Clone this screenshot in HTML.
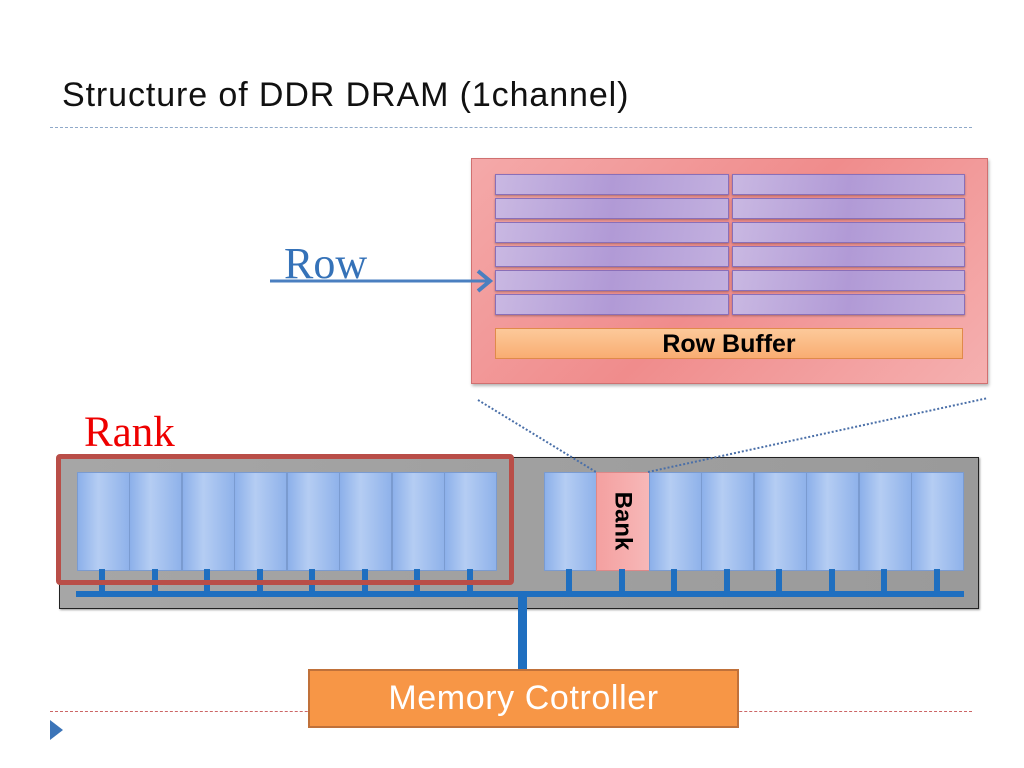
<!DOCTYPE html>
<html><head><style>
body{margin:0;width:1024px;height:768px;background:#fff;position:relative;overflow:hidden;font-family:"Liberation Sans",sans-serif}
.a{position:absolute;box-sizing:border-box}
.row{position:absolute;height:19px;background:linear-gradient(100deg,#c9b8e2,#b19ad6 50%,#c2b0df);border:1px solid #8a6fb8;box-shadow:0 1px 2px rgba(0,0,0,.3)}
.chip{position:absolute;top:472px;height:97px;width:51px;background:linear-gradient(90deg,#8cb0ea,#b5cdf3 40%,#8fb2ea);border:1px solid #7a9bd0}
.stub{position:absolute;top:569px;height:24px;width:6px;background:#1f6fc0}
</style></head><body>
<div class="a" style="left:62px;top:76px;font-size:34px;letter-spacing:0.9px;color:#111">Structure of DDR DRAM (1channel)</div>
<div class="a" style="left:50px;top:127px;width:922px;border-top:1px dashed #8fa9c9"></div>
<div class="a" style="left:471px;top:158px;width:517px;height:226px;background:linear-gradient(135deg,#f4a9a9,#f08c8c 50%,#f5b0b0);border:1px solid #d07070;box-shadow:1px 2px 3px rgba(0,0,0,.3)"></div>
<div class="row" style="left:495px;top:174px;width:232px"></div><div class="row" style="left:732px;top:174px;width:231px"></div>
<div class="row" style="left:495px;top:198px;width:232px"></div><div class="row" style="left:732px;top:198px;width:231px"></div>
<div class="row" style="left:495px;top:222px;width:232px"></div><div class="row" style="left:732px;top:222px;width:231px"></div>
<div class="row" style="left:495px;top:246px;width:232px"></div><div class="row" style="left:732px;top:246px;width:231px"></div>
<div class="row" style="left:495px;top:270px;width:232px"></div><div class="row" style="left:732px;top:270px;width:231px"></div>
<div class="row" style="left:495px;top:294px;width:232px"></div><div class="row" style="left:732px;top:294px;width:231px"></div>
<div class="a" style="left:495px;top:328px;width:468px;height:31px;background:linear-gradient(#fcc99a,#f9ad72);border:1px solid #e08a4a;text-align:center;font-weight:bold;font-size:25px;line-height:30px;color:#000">Row Buffer</div>
<div class="a" style="left:284px;top:238px;font-family:'Liberation Serif',serif;font-size:44px;color:#3572b8">Row</div>
<div class="a" style="left:84px;top:408px;font-family:'Liberation Serif',serif;font-size:43px;color:#e00">Rank</div>
<div class="a" style="left:59px;top:457px;width:920px;height:152px;background:linear-gradient(90deg,#a6a6a6,#9a9a9a);border:1px solid #222;box-shadow:1px 1px 2px rgba(0,0,0,.4)"></div>
<div class="a" style="left:76px;top:591px;width:888px;height:6px;background:#1f6fc0"></div>
<div class="a" style="left:518px;top:591px;width:9px;height:79px;background:#1f6fc0"></div>
<div class="chip" style="left:77px"></div><div class="chip" style="left:129px"></div><div class="chip" style="left:182px"></div><div class="chip" style="left:234px"></div><div class="chip" style="left:287px"></div><div class="chip" style="left:339px"></div><div class="chip" style="left:392px"></div><div class="chip" style="left:444px"></div>
<div class="chip" style="left:544px"></div>
<div class="chip" style="left:596px;width:52px;background:linear-gradient(90deg,#f4a0a0,#f7b8b8);border-color:#d88"></div>
<div class="a" style="left:596px;top:472px;width:52px;height:97px;display:flex;align-items:center;justify-content:center"><span style="transform:rotate(90deg);font-weight:bold;font-size:24px;color:#000">Bank</span></div>
<div class="chip" style="left:649px"></div><div class="chip" style="left:701px"></div><div class="chip" style="left:754px"></div><div class="chip" style="left:806px"></div><div class="chip" style="left:859px"></div><div class="chip" style="left:911px"></div>
<div class="stub" style="left:99px"></div><div class="stub" style="left:152px"></div><div class="stub" style="left:204px"></div><div class="stub" style="left:257px"></div><div class="stub" style="left:309px"></div><div class="stub" style="left:362px"></div><div class="stub" style="left:414px"></div><div class="stub" style="left:467px"></div>
<div class="stub" style="left:566px"></div><div class="stub" style="left:619px"></div><div class="stub" style="left:671px"></div><div class="stub" style="left:724px"></div><div class="stub" style="left:776px"></div><div class="stub" style="left:829px"></div><div class="stub" style="left:881px"></div><div class="stub" style="left:934px"></div>
<div class="a" style="left:56px;top:454px;width:458px;height:131px;border:5px solid #b94e48;border-radius:4px"></div>
<svg class="a" style="left:0;top:0" width="1024" height="768">
<line x1="270" y1="281" x2="490" y2="281" stroke="#4a7fc0" stroke-width="3"/>
<polyline points="478,271 490,281 478,291" fill="none" stroke="#4a7fc0" stroke-width="4"/>
<line x1="478" y1="400" x2="596" y2="472" stroke="#4a6fa8" stroke-width="2" stroke-dasharray="2,2"/>
<line x1="648" y1="472" x2="988" y2="398" stroke="#4a6fa8" stroke-width="2" stroke-dasharray="2,2"/>
</svg>
<div class="a" style="left:50px;top:711px;width:922px;border-top:1px dashed #c66"></div>
<div class="a" style="left:308px;top:669px;width:431px;height:59px;background:#f79646;border:2px solid #c0713a;color:#fff;font-size:34px;letter-spacing:0.6px;text-align:center;line-height:55px">Memory Cotroller</div>
<svg class="a" style="left:50px;top:720px" width="14" height="20"><polygon points="0,0 13,10 0,20" fill="#3b74b8"/></svg>
</body></html>
